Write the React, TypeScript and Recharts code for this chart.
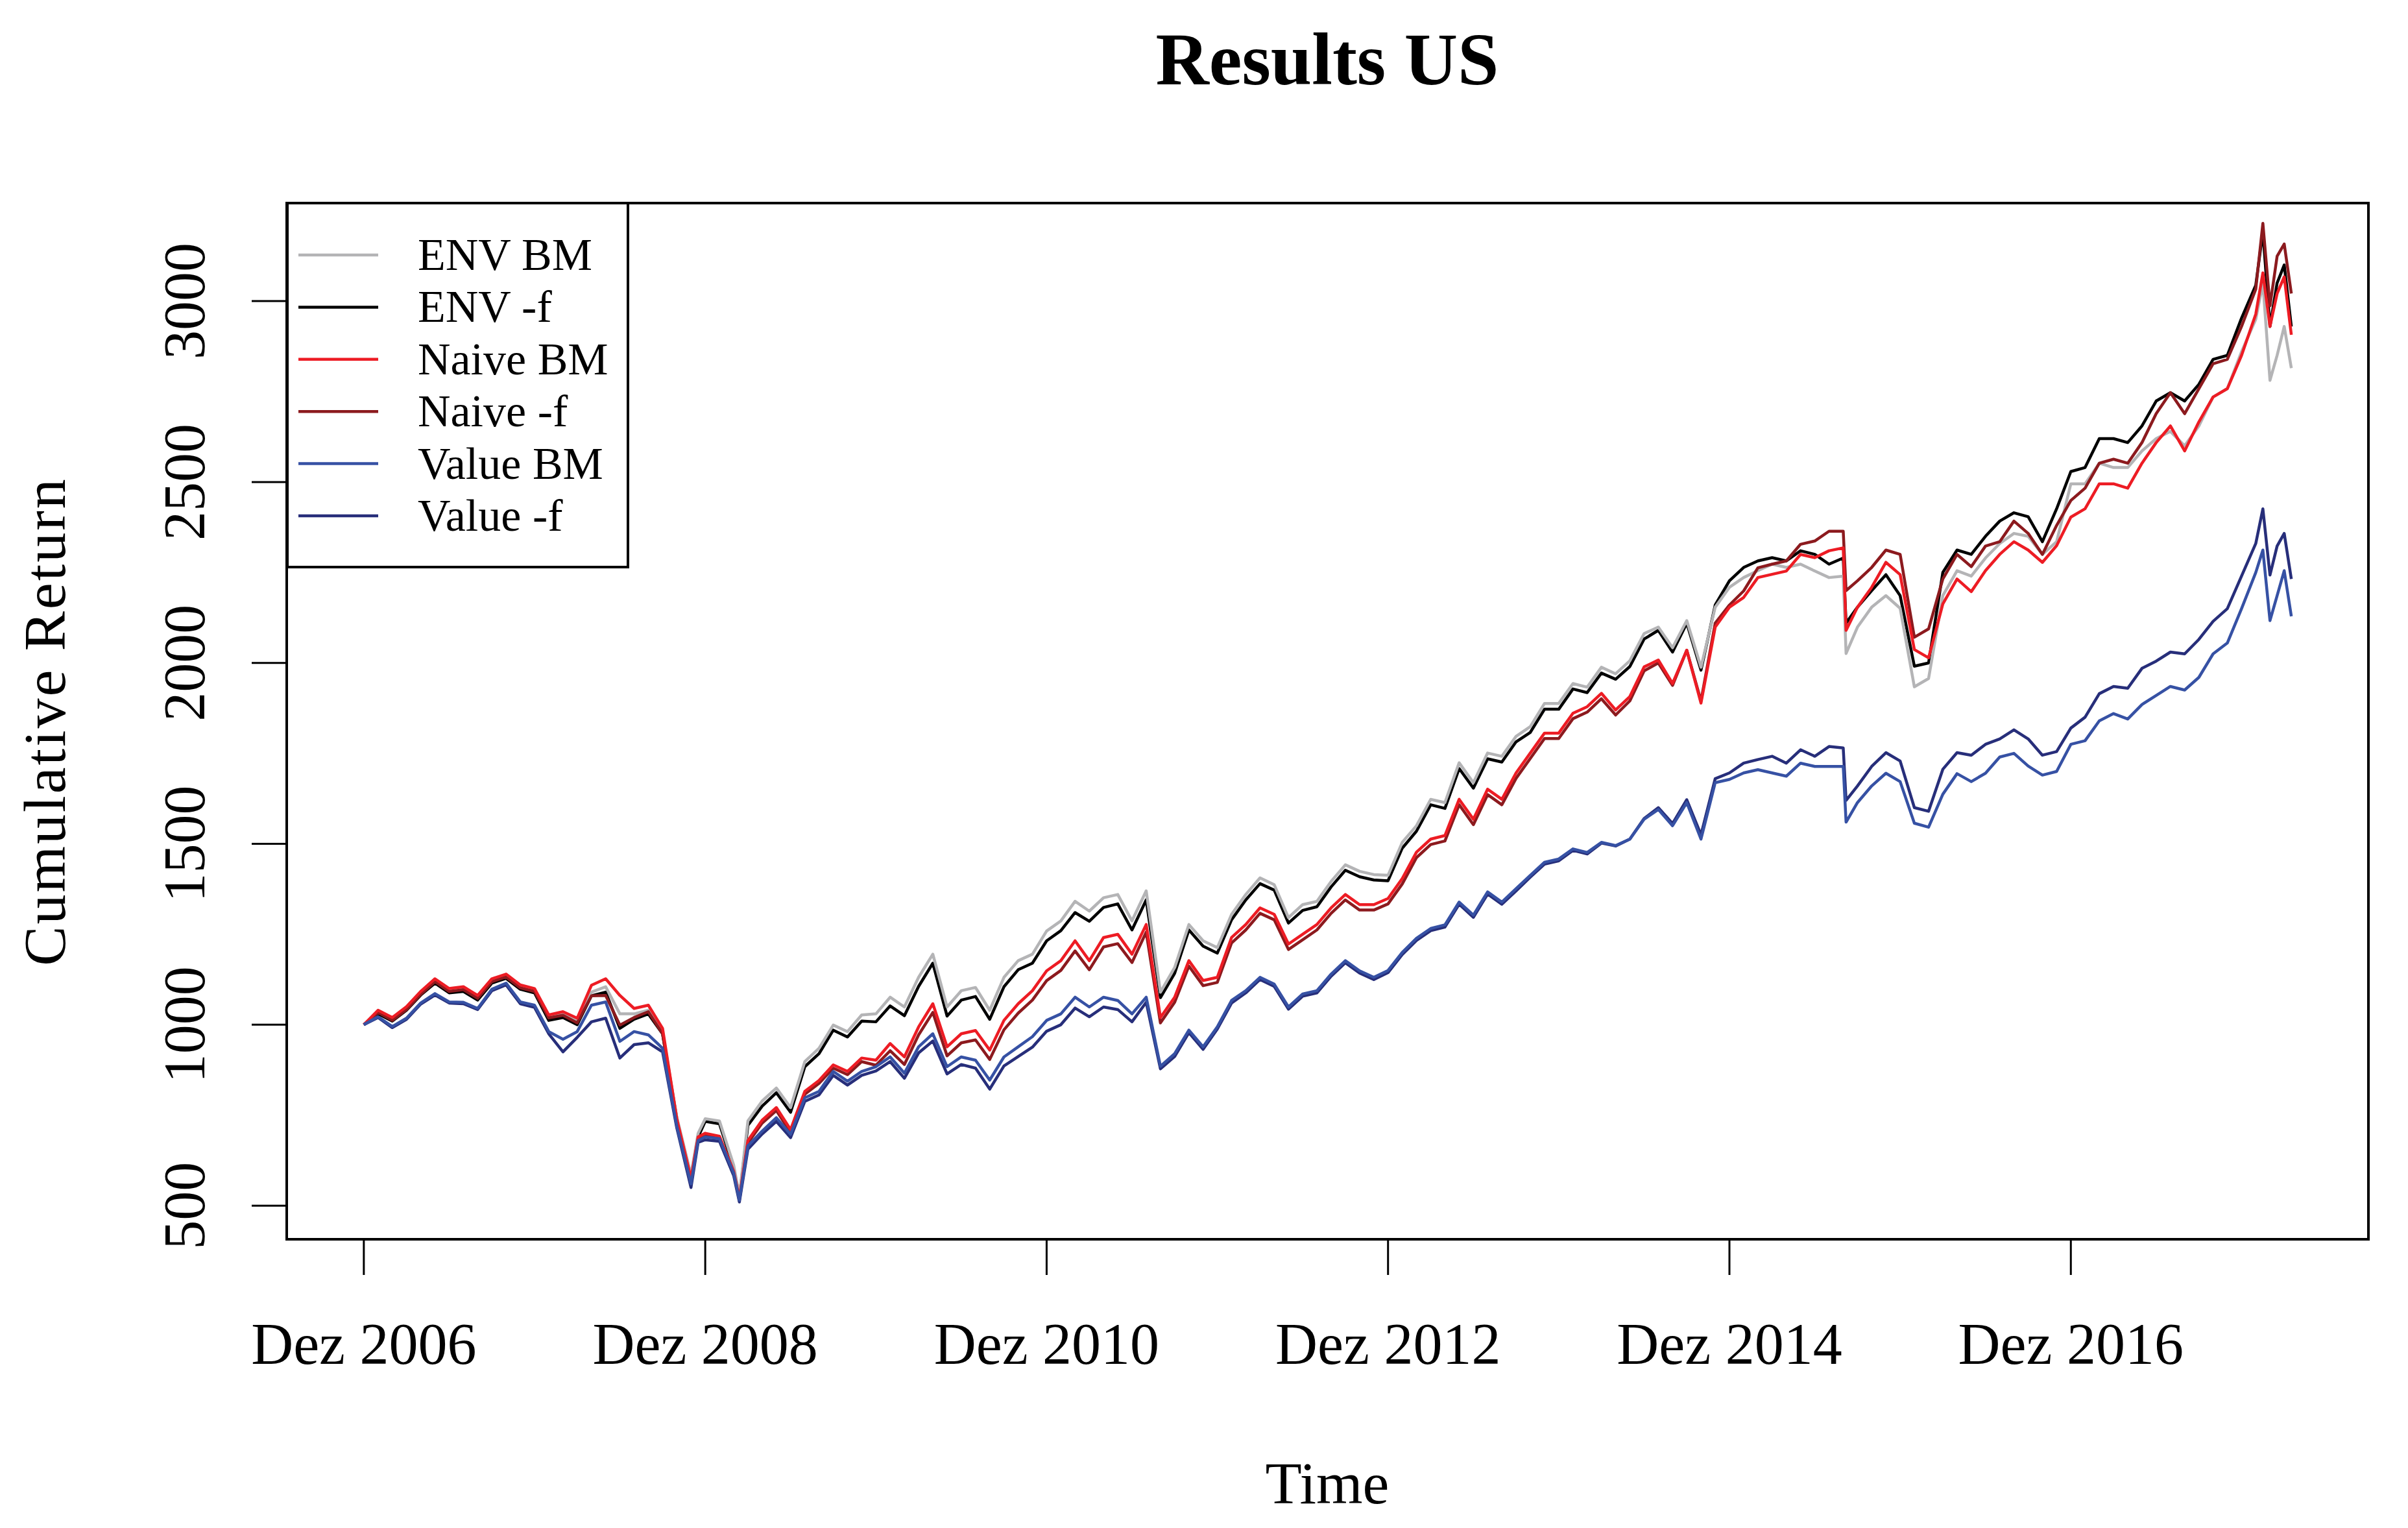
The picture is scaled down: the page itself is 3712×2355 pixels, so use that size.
import { LineChart, Line, XAxis, YAxis, Legend } from "recharts";

const FONT = "'Liberation Serif', 'Times New Roman', serif";

// x positions in months after Dez 2006
const months = [
  0, 1, 2, 3, 4, 5, 6, 7, 8, 9, 10, 11,
  12, 13, 14, 15, 16, 17, 18, 19, 20, 21, 22, 23, 23.5,
  24, 25, 26, 26.4, 27, 28, 29, 30, 31, 32, 33, 34, 35,
  36, 37, 38, 39, 40, 41, 42, 43, 44, 45, 46, 47,
  48, 49, 50, 51, 52, 53, 54, 55, 56, 57, 58, 59,
  60, 61, 62, 63, 64, 65, 66, 67, 68, 69, 70, 71,
  72, 73, 74, 75, 76, 77, 78, 79, 80, 81, 82, 83,
  84, 85, 86, 87, 88, 89, 90, 91, 92, 93, 94, 95,
  96, 97, 98, 99, 100, 101, 102, 103, 104, 104.2, 105, 106, 107,
  108, 109, 110, 111, 112, 113, 114, 115, 116, 117, 118, 119,
  120, 121, 122, 123, 124, 125, 126, 127, 128, 129, 130, 131,
  132, 133, 133.5, 134, 134.5, 135, 135.5,
];

const envBM = [
  1000, 1035, 1015, 1045, 1088, 1122, 1095, 1100, 1075, 1122, 1135, 1105,
  1095, 1020, 1030, 1010, 1090, 1105, 1030, 1030, 1040, 980, 745, 585, 700,
  740, 734, 612, 528, 734, 789, 825, 771, 898, 935, 999, 981, 1027,
  1030, 1076, 1049, 1131, 1195, 1049, 1094, 1103, 1040, 1131, 1177, 1195,
  1259, 1287, 1341, 1314, 1351, 1360, 1287, 1370, 1090, 1158, 1277, 1232,
  1213, 1305, 1360, 1406, 1387, 1296, 1332, 1341, 1396, 1442, 1424, 1415,
  1413, 1504, 1550, 1623, 1614, 1724, 1669, 1751, 1742, 1797, 1824, 1888,
  1888, 1943, 1933, 1988, 1970, 2006, 2081, 2099, 2042, 2117, 1988, 2154,
  2209, 2236, 2255, 2273, 2264, 2273, 2254, 2236, 2240, 2026, 2099, 2154, 2186,
  2151, 1934, 1957, 2186, 2255, 2240, 2290, 2330, 2358, 2350, 2300, 2335,
  2495, 2495, 2552, 2540, 2540, 2586, 2620, 2640, 2600, 2655, 2735, 2758,
  2860, 2950, 3050, 2781, 2850, 2930, 2815,
];

const envF = [
  1000, 1030, 1010, 1040, 1082, 1115, 1088, 1092, 1068, 1115, 1128, 1098,
  1088, 1012, 1020, 1000, 1080, 1090, 990, 1015, 1030, 975, 742, 565, 690,
  733, 726, 605, 522, 722, 775, 812, 758, 884, 920, 985, 966, 1010,
  1008, 1052, 1025, 1106, 1170, 1024, 1068, 1078, 1015, 1105, 1152, 1170,
  1232, 1260, 1310, 1286, 1324, 1334, 1262, 1345, 1075, 1142, 1262, 1217,
  1198, 1290, 1345, 1390, 1372, 1281, 1316, 1326, 1381, 1427, 1409, 1400,
  1398, 1488, 1535, 1608, 1598, 1708, 1654, 1735, 1726, 1782, 1808, 1872,
  1872, 1928, 1918, 1972, 1955, 1990, 2066, 2090, 2030, 2110, 1980, 2160,
  2227, 2264, 2282, 2291, 2282, 2310, 2300, 2273, 2290, 2110, 2154, 2200, 2244,
  2186, 1991, 2000, 2250, 2312, 2300, 2350, 2392, 2415, 2404, 2335, 2426,
  2529, 2540, 2620, 2620, 2609, 2655, 2724, 2747, 2724, 2770, 2839, 2850,
  2953, 3044, 3192, 2930, 3050, 3100, 2930,
];

const naiveBM = [
  1000, 1040, 1020, 1050, 1092, 1127, 1100, 1105, 1081, 1127, 1140, 1110,
  1100, 1027, 1036, 1018, 1109, 1127, 1081, 1045, 1054, 990, 740, 575, 690,
  700, 692, 595, 520, 680, 736, 771, 710, 816, 846, 889, 871, 908,
  902, 948, 911, 994, 1058, 939, 975, 984, 930, 1012, 1058, 1094,
  1149, 1177, 1232, 1177, 1241, 1250, 1195, 1277, 1020, 1076, 1177, 1122,
  1131, 1241, 1277, 1323, 1305, 1223, 1250, 1277, 1323, 1360, 1332, 1332,
  1349, 1404, 1477, 1513, 1523, 1623, 1568, 1651, 1623, 1696, 1751, 1806,
  1806, 1861, 1879, 1916, 1870, 1907, 1989, 2008, 1943, 2035, 1889, 2099,
  2154, 2181, 2236, 2245, 2254, 2300, 2291, 2310, 2318, 2090, 2154, 2209, 2278,
  2244, 2037, 2014, 2163, 2232, 2197, 2255, 2300, 2335, 2312, 2278, 2324,
  2403, 2426, 2495, 2495, 2483, 2552, 2609, 2655, 2586, 2666, 2735, 2758,
  2850, 2964, 3078, 2930, 3021, 3067, 2907,
];

const naiveF = [
  1000, 1034, 1012, 1042, 1084, 1119, 1092, 1097, 1073, 1119, 1132, 1102,
  1092, 1019, 1026, 1005, 1080, 1081, 999, 1020, 1036, 975, 735, 570, 685,
  694, 686, 590, 516, 673, 728, 763, 702, 808, 838, 880, 862, 898,
  888, 928, 890, 972, 1034, 914, 950, 958, 904, 986, 1032, 1068,
  1122, 1150, 1204, 1152, 1215, 1224, 1172, 1256, 1005, 1062, 1162, 1108,
  1117, 1226, 1262, 1308, 1290, 1208, 1235, 1262, 1308, 1345, 1317, 1317,
  1334, 1389, 1462, 1498, 1508, 1608, 1553, 1636, 1608, 1681, 1736, 1791,
  1791, 1846, 1864, 1901, 1856, 1895, 1978, 2000, 1938, 2035, 1895, 2110,
  2160, 2199, 2263, 2273, 2282, 2328, 2337, 2364, 2364, 2200, 2227, 2264, 2312,
  2300, 2071, 2094, 2232, 2300, 2266, 2323, 2335, 2392, 2358, 2300, 2380,
  2449, 2483, 2552, 2563, 2552, 2609, 2689, 2747, 2689, 2758, 2827, 2839,
  2930, 3033, 3215, 2987, 3124, 3158, 3021,
];

const valueBM = [
  1000, 1022, 995, 1018, 1060, 1086, 1063, 1062, 1045, 1098, 1115, 1063,
  1054, 981, 960, 981, 1054, 1063, 954, 981, 972, 935, 720, 560, 680,
  690, 685, 590, 515, 665, 706, 743, 697, 798, 816, 871, 844, 871,
  884, 911, 866, 939, 975, 884, 911, 902, 847, 911, 939, 967,
  1012, 1030, 1076, 1049, 1076, 1067, 1030, 1076, 885, 920, 985, 939,
  994, 1067, 1094, 1131, 1112, 1049, 1085, 1094, 1140, 1177, 1149, 1131,
  1150, 1200, 1239, 1266, 1276, 1339, 1303, 1367, 1339, 1376, 1413, 1449,
  1458, 1486, 1476, 1504, 1495, 1513, 1568, 1595, 1550, 1614, 1513, 1669,
  1678, 1696, 1705, 1696, 1687, 1723, 1714, 1714, 1714, 1560, 1614, 1660, 1695,
  1672, 1557, 1546, 1637, 1694, 1672, 1695, 1740, 1750, 1715, 1690, 1700,
  1775, 1785, 1840, 1860, 1845, 1885, 1910, 1935, 1925, 1960, 2025, 2055,
  2150, 2250, 2312, 2117, 2186, 2255, 2129,
];

const valueF = [
  1000, 1020, 992, 1015, 1057, 1082, 1060, 1058, 1042, 1094, 1110, 1058,
  1048, 975, 925, 965, 1008, 1018, 908, 945, 950, 925, 715, 550, 675,
  682, 678, 583, 510, 656, 698, 733, 688, 788, 806, 860, 833, 860,
  872, 898, 852, 922, 955, 864, 890, 880, 822, 886, 912, 938,
  982, 1000, 1046, 1022, 1049, 1042, 1008, 1062, 878, 912, 978, 932,
  988, 1060, 1088, 1125, 1106, 1043, 1079, 1088, 1134, 1171, 1143, 1125,
  1144, 1194, 1233, 1260, 1270, 1333, 1297, 1361, 1333, 1370, 1408, 1444,
  1453, 1482, 1472, 1502, 1494, 1513, 1570, 1600, 1556, 1622, 1525, 1680,
  1696, 1723, 1733, 1742, 1723, 1760, 1742, 1769, 1765, 1620, 1660, 1714, 1752,
  1729, 1600, 1590, 1706, 1752, 1745, 1775, 1790, 1815, 1790, 1745, 1755,
  1820, 1850, 1915, 1935, 1930, 1985, 2005, 2030, 2025, 2065, 2115, 2150,
  2240, 2330, 2426, 2243, 2323, 2358, 2232,
];

const xTicks = [0, 24, 48, 72, 96, 120];
const xTickLabels = ["Dez 2006", "Dez 2008", "Dez 2010", "Dez 2012", "Dez 2014", "Dez 2016"];
const yTicks = [500, 1000, 1500, 2000, 2500, 3000];

// legend order
const seriesKeys = ["envBM", "envF", "naiveBM", "naiveF", "valueBM", "valueF"];
const seriesNames = ["ENV BM", "ENV -f", "Naive BM", "Naive -f", "Value BM", "Value -f"];
const seriesColors = ["#b4b4b6", "#000000", "#ed1c24", "#8c1a1e", "#3651a4", "#272e7a"];
// R draws the -f line first, BM on top
const drawOrder = ["envF", "envBM", "naiveF", "naiveBM", "valueF", "valueBM"];

const data = months.map((m, i) => ({
  m,
  envBM: envBM[i],
  envF: envF[i],
  naiveBM: naiveBM[i],
  naiveF: naiveF[i],
  valueBM: valueBM[i],
  valueF: valueF[i],
}));

const W = 3712;
const H = 2355;
const PLOT = { left: 442, top: 313, right: 3651, bottom: 1910 };
const AXW = 60;

function XTick(props: any) {
  const { x, y, payload } = props;
  const label = xTickLabels[xTicks.indexOf(payload.value)];
  return (
    <g>
      <line x1={x} y1={y} x2={x} y2={y + 55} stroke="#000" strokeWidth={3} />
      <text x={x} y={y + 192} textAnchor="middle" fontSize={90} fontFamily={FONT} fill="#000">
        {label}
      </text>
    </g>
  );
}

function YTick(props: any) {
  const { x, y, payload } = props;
  const tx = x - 127;
  return (
    <g>
      <line x1={x - 54} y1={y} x2={x} y2={y} stroke="#000" strokeWidth={3} />
      <text
        x={tx}
        y={y}
        transform={`rotate(-90, ${tx}, ${y})`}
        textAnchor="middle"
        fontSize={90}
        fontFamily={FONT}
        fill="#000"
      >
        {payload.value}
      </text>
    </g>
  );
}

function LegendBox() {
  return (
    <svg width={529} height={565} style={{ display: "block" }}>
      <rect x={2} y={2} width={525} height={561} fill="#fff" stroke="#000" strokeWidth={4} />
      {seriesNames.map((name, i) => {
        const cy = 82 + i * 80.4;
        return (
          <g key={name}>
            <line x1={19} y1={cy} x2={142} y2={cy} stroke={seriesColors[i]} strokeWidth={4.5} />
            <text x={203} y={cy + 23} fontSize={70} fontFamily={FONT} fill="#000">
              {name}
            </text>
          </g>
        );
      })}
    </svg>
  );
}

export default function App() {
  const plotW = PLOT.right - PLOT.left;
  const plotH = PLOT.bottom - PLOT.top;
  return (
    <div style={{ position: "absolute", left: 0, top: 0, width: W, height: H, background: "#fff", fontFamily: FONT }}>
      <LineChart
        width={W}
        height={H}
        data={data}
        margin={{ top: PLOT.top, left: PLOT.left - AXW, right: W - PLOT.right, bottom: H - PLOT.bottom - AXW }}
      >
        <XAxis
          dataKey="m"
          type="number"
          domain={[-5.42, 140.92]}
          ticks={xTicks}
          interval={0}
          allowDataOverflow
          height={AXW}
          tickSize={0}
          tickMargin={0}
          tickLine={false}
          axisLine={false}
          tick={<XTick />}
        />
        <YAxis
          type="number"
          domain={[407, 3271]}
          ticks={yTicks}
          interval={0}
          allowDataOverflow
          width={AXW}
          tickSize={0}
          tickMargin={0}
          tickLine={false}
          axisLine={false}
          tick={<YTick />}
        />
        {drawOrder.map((key) => {
          const i = seriesKeys.indexOf(key);
          return (
            <Line
              key={key}
              type="linear"
              dataKey={key}
              name={seriesNames[i]}
              stroke={seriesColors[i]}
              strokeWidth={4.5}
              strokeLinejoin="round"
              dot={false}
              activeDot={false}
              isAnimationActive={false}
            />
          );
        })}
        <Legend
          layout="horizontal"
          verticalAlign="middle"
          align="center"
          wrapperStyle={{ left: PLOT.left - 1, top: PLOT.top - 2, width: 529, height: 565 }}
          content={() => <LegendBox />}
        />
      </LineChart>
      <svg width={W} height={H} style={{ position: "absolute", left: 0, top: 0, pointerEvents: "none" }}>
        <rect x={PLOT.left} y={PLOT.top} width={plotW} height={plotH} fill="none" stroke="#000" strokeWidth={4} />
        <text x={2046} y={130} textAnchor="middle" fontSize={114} fontWeight="bold" fontFamily={FONT} fill="#000">
          Results US
        </text>
        <text x={2046} y={2317} textAnchor="middle" fontSize={92} fontFamily={FONT} fill="#000">
          Time
        </text>
        <text
          x={100}
          y={1112}
          transform="rotate(-90, 100, 1112)"
          textAnchor="middle"
          fontSize={92}
          letterSpacing={3}
          fontFamily={FONT}
          fill="#000"
        >
          Cumulative Return
        </text>
      </svg>
    </div>
  );
}
